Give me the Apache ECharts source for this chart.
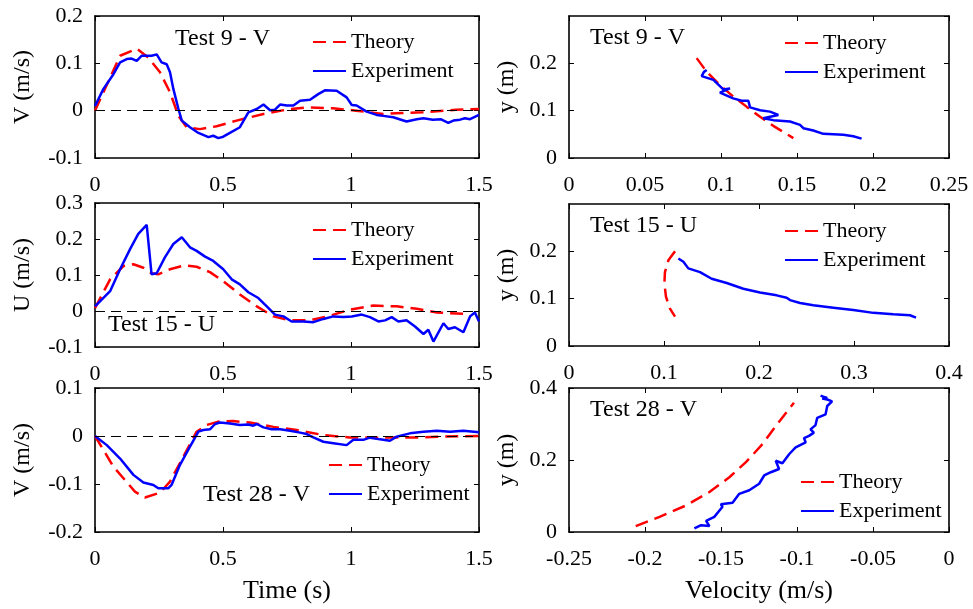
<!DOCTYPE html>
<html>
<head>
<meta charset="utf-8">
<script src="https://cdn.jsdelivr.net/npm/echarts@6/dist/echarts.min.js"></script>
<style>
html,body{margin:0;padding:0;background:#fff;}
#main{width:973px;height:609px;}
</style>
</head>
<body>
<div id="main"></div>
<script>
// time histories [t (s), velocity (m/s)]
var t9V_theory = [[0,0],[0.098,0.116],[0.163,0.131],[0.208,0.112],[0.254,0.081],[0.293,0.039],[0.326,-0.011],[0.358,-0.035],[0.41,-0.039],[0.475,-0.033],[0.553,-0.021],[0.658,-0.007],[0.762,0.0035],[0.827,0.007],[0.93,0.005],[1.02,0],[1.126,-0.007],[1.2,-0.005],[1.28,-0.0035],[1.41,0.002],[1.5,0.0035]];
var t9V_exp = [[0,0.01],[0.033,0.046],[0.072,0.077],[0.098,0.102],[0.124,0.109],[0.143,0.11],[0.163,0.105],[0.182,0.116],[0.202,0.116],[0.221,0.116],[0.241,0.119],[0.26,0.102],[0.28,0.098],[0.293,0.081],[0.306,0.046],[0.326,0.0035],[0.339,-0.021],[0.371,-0.035],[0.404,-0.047],[0.443,-0.056],[0.462,-0.053],[0.482,-0.058],[0.501,-0.055],[0.527,-0.047],[0.566,-0.035],[0.599,-0.0035],[0.632,0.0035],[0.658,0.013],[0.684,0.001],[0.703,0.002],[0.723,0.013],[0.749,0.011],[0.775,0.011],[0.801,0.021],[0.84,0.023],[0.872,0.035],[0.898,0.043],[0.944,0.042],[0.983,0.028],[1.003,0.012],[1.022,0.011],[1.061,-0.002],[1.1,-0.009],[1.126,-0.011],[1.165,-0.014],[1.217,-0.023],[1.257,-0.018],[1.283,-0.016],[1.32,-0.019],[1.35,-0.018],[1.38,-0.026],[1.4,-0.021],[1.426,-0.019],[1.445,-0.016],[1.465,-0.018],[1.5,-0.009]];
var t15U_theory = [[0,0.008],[0.059,0.088],[0.111,0.125],[0.15,0.13],[0.189,0.12],[0.221,0.105],[0.247,0.102],[0.293,0.116],[0.352,0.127],[0.397,0.123],[0.449,0.108],[0.501,0.083],[0.566,0.046],[0.632,0.013],[0.697,-0.015],[0.762,-0.026],[0.84,-0.026],[0.918,-0.013],[0.996,0.004],[1.087,0.015],[1.178,0.013],[1.257,0.006],[1.335,-0.004],[1.413,-0.007],[1.465,-0.009]];
var t15U_exp = [[0,0.013],[0.059,0.055],[0.098,0.116],[0.137,0.172],[0.169,0.214],[0.202,0.239],[0.221,0.102],[0.241,0.105],[0.273,0.149],[0.306,0.186],[0.339,0.205],[0.371,0.177],[0.397,0.167],[0.43,0.151],[0.462,0.139],[0.501,0.116],[0.534,0.088],[0.566,0.074],[0.599,0.052],[0.638,0.036],[0.671,0.013],[0.703,-0.01],[0.736,-0.015],[0.768,-0.029],[0.814,-0.029],[0.853,-0.031],[0.892,-0.022],[0.931,-0.015],[0.97,-0.017],[1.003,-0.015],[1.042,-0.01],[1.074,-0.017],[1.107,-0.029],[1.133,-0.026],[1.159,-0.017],[1.185,-0.029],[1.217,-0.026],[1.25,-0.043],[1.283,-0.064],[1.302,-0.052],[1.322,-0.085],[1.361,-0.034],[1.38,-0.05],[1.406,-0.045],[1.439,-0.059],[1.465,-0.015],[1.484,-0.004],[1.5,-0.029]];
var t28V_theory = [[0,0],[0.033,-0.029],[0.072,-0.064],[0.111,-0.088],[0.156,-0.116],[0.195,-0.128],[0.254,-0.118],[0.293,-0.095],[0.345,-0.043],[0.397,0.009],[0.436,0.023],[0.482,0.03],[0.54,0.031],[0.605,0.028],[0.697,0.019],[0.788,0.0125],[0.892,0.002],[0.996,-0.003],[1.087,-0.0035],[1.178,-0.003],[1.257,-0.003],[1.348,-0.0014],[1.5,0]];
var t28V_exp = [[0,0],[0.046,-0.019],[0.098,-0.047],[0.15,-0.081],[0.189,-0.097],[0.228,-0.102],[0.247,-0.109],[0.286,-0.109],[0.299,-0.102],[0.332,-0.06],[0.371,-0.022],[0.404,0.009],[0.423,0.0125],[0.449,0.014],[0.469,0.025],[0.488,0.028],[0.527,0.026],[0.566,0.023],[0.599,0.024],[0.618,0.0215],[0.632,0.025],[0.658,0.018],[0.69,0.014],[0.723,0.014],[0.762,0.011],[0.801,0.007],[0.827,0.004],[0.853,-0.003],[0.892,-0.012],[0.931,-0.015],[0.983,-0.019],[1.009,-0.008],[1.048,-0.008],[1.074,-0.0035],[1.113,-0.007],[1.152,-0.01],[1.178,-0.0014],[1.23,0.0055],[1.283,0.009],[1.335,0.011],[1.387,0.009],[1.439,0.011],[1.5,0.0076]];

// vertical profiles [velocity (m/s), y (m)]
var p9_theory = [[0.084,0.211],[0.0906,0.182],[0.0993,0.154],[0.108,0.13],[0.117,0.108],[0.1257,0.087],[0.1344,0.068],[0.1476,0.042]];
var p9_exp = [[0.0906,0.186],[0.0888,0.182],[0.0873,0.173],[0.095,0.165],[0.1015,0.145],[0.1059,0.147],[0.0993,0.138],[0.108,0.126],[0.1136,0.121],[0.118,0.121],[0.1191,0.107],[0.1257,0.101],[0.1322,0.098],[0.1377,0.091],[0.1278,0.084],[0.1344,0.08],[0.1454,0.077],[0.152,0.07],[0.1542,0.063],[0.1607,0.058],[0.1673,0.051],[0.1805,0.049],[0.187,0.046],[0.1925,0.041]];
var p15_theory = [[0.1116,0.2],[0.1046,0.181],[0.101,0.156],[0.1004,0.132],[0.1021,0.104],[0.1063,0.079],[0.1116,0.062]];
var p15_exp = [[0.1151,0.185],[0.1204,0.178],[0.1256,0.164],[0.1379,0.156],[0.1502,0.142],[0.166,0.133],[0.1835,0.121],[0.201,0.113],[0.2186,0.107],[0.2291,0.102],[0.2326,0.097],[0.2432,0.091],[0.2572,0.086],[0.2782,0.081],[0.2993,0.076],[0.3204,0.07],[0.3414,0.067],[0.3589,0.065],[0.3653,0.06]];
var p28_theory = [[-0.2061,0.0165],[-0.1904,0.042],[-0.1729,0.074],[-0.1576,0.111],[-0.1445,0.152],[-0.1336,0.194],[-0.1227,0.244],[-0.114,0.294],[-0.1063,0.336],[-0.102,0.359]];
var p28_exp = [[-0.1675,0.01],[-0.1631,0.019],[-0.1576,0.0165],[-0.1598,0.031],[-0.1544,0.042],[-0.149,0.07],[-0.1501,0.077],[-0.1424,0.081],[-0.138,0.106],[-0.1314,0.116],[-0.1249,0.134],[-0.1216,0.157],[-0.1172,0.166],[-0.1118,0.175],[-0.114,0.198],[-0.1096,0.191],[-0.1052,0.216],[-0.1009,0.235],[-0.0943,0.249],[-0.0954,0.261],[-0.0921,0.267],[-0.0889,0.276],[-0.0911,0.285],[-0.0878,0.297],[-0.0867,0.317],[-0.0812,0.327],[-0.0801,0.35],[-0.0769,0.363],[-0.0801,0.368],[-0.0834,0.371],[-0.0801,0.372],[-0.0845,0.379]];

var FONT = 'Liberation Serif';

// layout of the 6 panels
var panels = [
  {title:'Test 9 - V', th:t9V_theory, ex:t9V_exp, box:[95,16,384,142], x:[0,1.5,0.5], y:[-0.1,0.2,0.1], yname:'V (m/s)', zero:true, tpos:[175,27], lpos:[312,31]},
  {title:'Test 15 - U', th:t15U_theory, ex:t15U_exp, box:[95,203,384,144], x:[0,1.5,0.5], y:[-0.1,0.3,0.1], yname:'U (m/s)', zero:true, tpos:[108,313], lpos:[312,219]},
  {title:'Test 28 - V', th:t28V_theory, ex:t28V_exp, box:[95,388,384,144], x:[0,1.5,0.5], y:[-0.2,0.1,0.1], yname:'V (m/s)', zero:true, xname:'Time (s)', tpos:[203,483], lpos:[328,454]},
  {title:'Test 9 - V', th:p9_theory, ex:p9_exp, box:[569,16,380,142], x:[0,0.25,0.05], y:[0,0.3,0.1], yname:'y (m)', hideTop:true, tpos:[590,26], lpos:[784,32]},
  {title:'Test 15 - U', th:p15_theory, ex:p15_exp, box:[569,204,380,142], x:[0,0.4,0.1], y:[0,0.3,0.1], yname:'y (m)', hideTop:true, tpos:[590,214], lpos:[784,220]},
  {title:'Test 28 - V', th:p28_theory, ex:p28_exp, box:[569,388,380,144], x:[-0.25,0,0.05], y:[0,0.4,0.2], yname:'y (m)', xname:'Velocity (m/s)', tpos:[590,398], lpos:[800,471]}
];

function axisCommon(gi, r){
  return {
    gridIndex: gi, type: 'value', min: r[0], max: r[1], interval: r[2],
    axisLine: {show: true, onZero: false, lineStyle: {color: '#000', width: 1.6}},
    axisTick: {show: true, inside: true, length: 5, lineStyle: {color: '#000', width: 1}},
    splitLine: {show: false}
  };
}

var option = {animation: false, backgroundColor: '#fff', title: [], legend: [], grid: [], xAxis: [], yAxis: [], series: []};

for (var i = 0; i < panels.length; i++) {
  var p = panels[i];
  option.grid.push({left: p.box[0], top: p.box[1], width: p.box[2], height: p.box[3], show: false});

  var xb = axisCommon(i, p.x);
  xb.position = 'bottom';
  xb.axisLabel = {color: '#000', fontFamily: FONT, fontSize: 22, margin: 16};
  if (p.xname) {
    xb.name = p.xname; xb.nameLocation = 'middle'; xb.nameGap = 46;
    xb.nameTextStyle = {color: '#000', fontFamily: FONT, fontSize: 26};
  }
  var xt = axisCommon(i, p.x);
  xt.position = 'top';
  xt.axisLabel = {show: false};
  option.xAxis.push(xb, xt);

  var yl = axisCommon(i, p.y);
  yl.position = 'left';
  yl.axisLabel = {color: '#000', fontFamily: FONT, fontSize: 22, margin: 12, showMaxLabel: !p.hideTop};
  yl.name = p.yname; yl.nameLocation = 'middle';
  yl.nameGap = i < 3 ? 60 : 50;
  yl.nameTextStyle = {color: '#000', fontFamily: FONT, fontSize: 24};
  var yr = axisCommon(i, p.y);
  yr.position = 'right';
  yr.axisLabel = {show: false};
  option.yAxis.push(yl, yr);

  option.title.push({text: p.title, left: p.tpos[0], top: p.tpos[1], padding: 0,
    textStyle: {color: '#000', fontFamily: FONT, fontSize: 24, fontWeight: 'normal'}});

  // legend: line sample only, no marker
  option.legend.push({orient: 'vertical', left: p.lpos[0], top: p.lpos[1], padding: 0,
    itemWidth: 33, itemHeight: 14, itemGap: 7, data: ['Theory', 'Experiment'],
    itemStyle: {opacity: 0},
    textStyle: {color: '#000', fontFamily: FONT, fontSize: 22, lineHeight: 22}});

  var th = {type: 'line', name: 'Theory', xAxisIndex: 2 * i, yAxisIndex: 2 * i, data: p.th,
    symbol: 'none', showSymbol: false, z: 3,
    lineStyle: {color: '#ff0000', width: 2.5, type: [13, 7]}, itemStyle: {color: '#ff0000'}};
  if (p.zero) {
    th.markLine = {silent: true, symbol: 'none', label: {show: false}, animation: false,
      lineStyle: {color: '#000', width: 1.2, type: [10, 6]}, data: [{yAxis: 0}]};
  }
  option.series.push(th);
  option.series.push({type: 'line', name: 'Experiment', xAxisIndex: 2 * i, yAxisIndex: 2 * i, data: p.ex,
    symbol: 'none', showSymbol: false, z: 4,
    lineStyle: {color: '#0000ff', width: 2.5}, itemStyle: {color: '#0000ff'}});
}

var myChart = echarts.init(document.getElementById('main'));
myChart.setOption(option);
</script>
</body>
</html>
